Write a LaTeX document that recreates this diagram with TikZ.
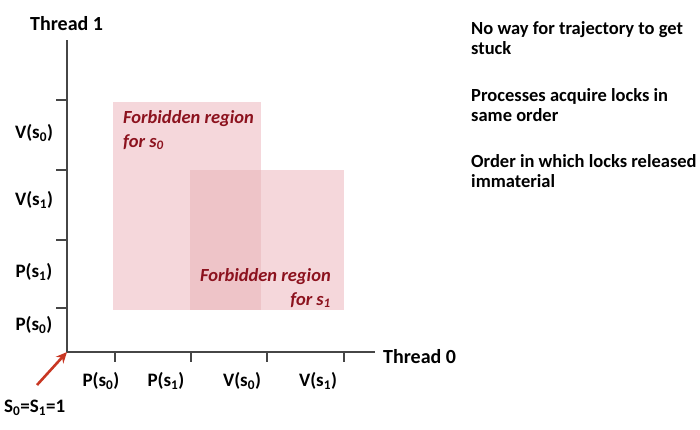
\documentclass[tikz,border=0pt]{standalone}
\usepackage{fontspec}
\setmainfont{Carlito}
\usetikzlibrary{arrows.meta}
\definecolor{regionfill}{RGB}{245,215,219}
\definecolor{overlapfill}{RGB}{238,196,200}
\definecolor{labelred}{RGB}{140,18,30}
\definecolor{axisgray}{RGB}{70,70,70}
\definecolor{arrowred}{RGB}{200,55,35}
\tikzset{
  axisline/.style={draw=axisgray, line width=1.4pt},
  tickline/.style={draw=axisgray, line width=1.4pt},
  ticklab/.style={font=\fontsize{19}{21}\selectfont\bfseries, text=black, inner sep=0pt},
  axislab/.style={font=\fontsize{20}{22}\selectfont\bfseries, text=black, inner sep=0pt},
  regionlab/.style={font=\fontsize{18.5}{24}\selectfont\bfseries\itshape, text=labelred, inner sep=0pt},
  note/.style={font=\fontsize{18.5}{20.5}\selectfont\bfseries, text=black, inner sep=0pt, anchor=north west, align=left},
}
\begin{document}
\begin{tikzpicture}[x=1pt,y=-1pt]
\useasboundingbox (0,0) rectangle (700,429);
% regions
\fill[regionfill] (113,102) rectangle (261,310);
\fill[regionfill] (190,170) rectangle (344,310);
\fill[overlapfill] (190,170) rectangle (261,310);
\node[regionlab, anchor=north west, align=left] (r0) at (123,110) {Forbidden region\\for s\textsubscript{0}};
\node[regionlab, anchor=north east, align=right] (r1) at (331,268) {Forbidden region\\for s\textsubscript{1}};
% axes
\coordinate (O) at (67,352);
\coordinate (ytop) at (67,40);
\coordinate (xend) at (375,352);
\draw[axisline] (ytop) -- (O) -- (xend);
\node[axislab, anchor=west] (t1) at (30,24) {Thread 1};
\node[axislab, anchor=west] (t0) at (383,357) {Thread 0};
% y ticks
\foreach \y/\n in {100/ya,170/yb,240/yc,308/yd}{
  \coordinate (\n a) at (56,\y);
  \coordinate (\n b) at (67,\y);
  \draw[tickline] (\n a) -- (\n b);
}
% x ticks
\foreach \x/\n in {115/xa,191/xb,267/xc,344/xd}{
  \coordinate (\n a) at (\x,352);
  \coordinate (\n b) at (\x,362);
  \draw[tickline] (\n a) -- (\n b);
}
% y labels
\node[ticklab] (lv0) at (34,133) {V(s\textsubscript{0})};
\node[ticklab] (lv1) at (34,200) {V(s\textsubscript{1})};
\node[ticklab] (lp1) at (34,272) {P(s\textsubscript{1})};
\node[ticklab] (lp0) at (34,325) {P(s\textsubscript{0})};
% x labels
\node[ticklab] (xp0) at (101,381) {P(s\textsubscript{0})};
\node[ticklab] (xp1) at (166,381) {P(s\textsubscript{1})};
\node[ticklab] (xv0) at (242,381) {V(s\textsubscript{0})};
\node[ticklab] (xv1) at (318,381) {V(s\textsubscript{1})};
% initial state
\node[ticklab, anchor=west] (init) at (4,408) {S\textsubscript{0}=S\textsubscript{1}=1};
\coordinate (arrstart) at (37,385);
\draw[arrowred, line width=2.6pt, -{Stealth[length=11pt,width=10pt]}] (arrstart) -- (O);
% notes
\node[note] (n1) at (471,21) {No way for trajectory to get\\stuck};
\node[note] (n2) at (471,88) {Processes acquire locks in\\same order};
\node[note] (n3) at (471,154) {Order in which locks released\\immaterial};
\end{tikzpicture}
\end{document}
